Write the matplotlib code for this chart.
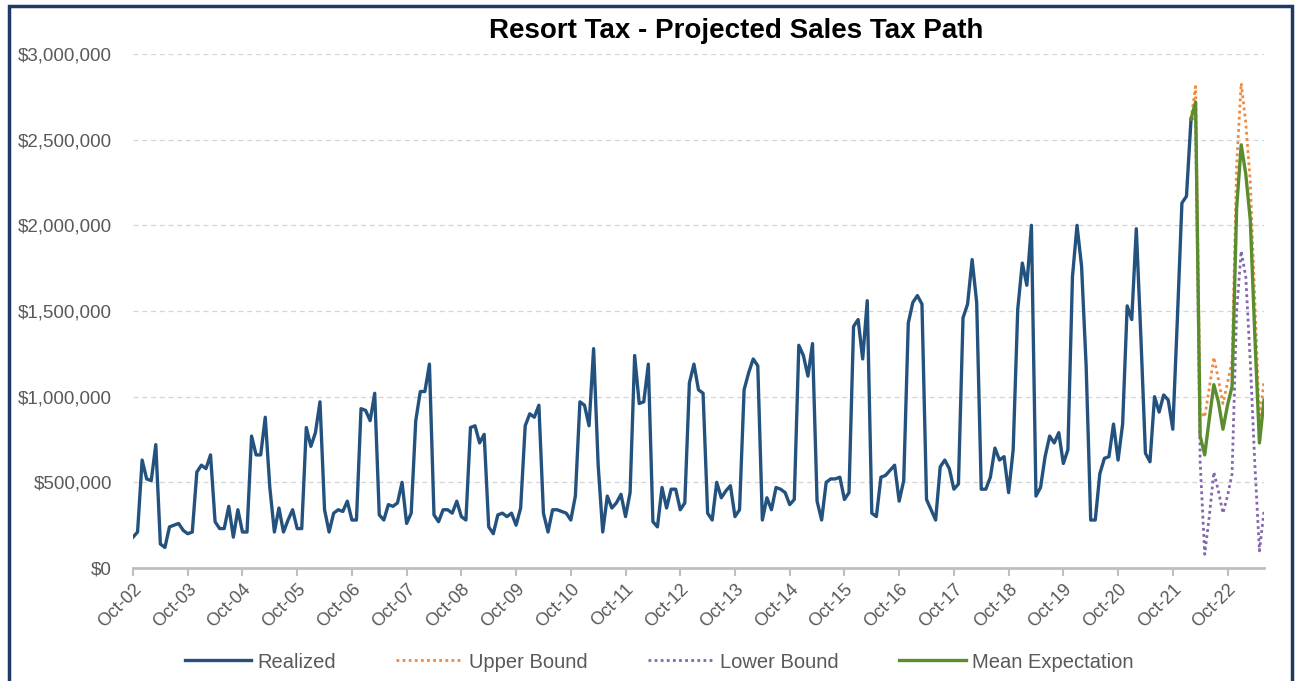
import numpy as np
import pandas as pd
import matplotlib.pyplot as plt
from matplotlib.ticker import FuncFormatter
from matplotlib.patches import Rectangle

plt.rcParams['font.family'] = ['Liberation Sans', 'DejaVu Sans']

# monthly resort tax, $ millions, Oct-02 .. Feb-22 (one row per fiscal year)
realized = [
    0.18, 0.21, 0.63, 0.52, 0.51, 0.72, 0.14, 0.12, 0.24, 0.25, 0.26, 0.22,
    0.20, 0.21, 0.56, 0.60, 0.58, 0.66, 0.27, 0.23, 0.23, 0.36, 0.18, 0.34,
    0.21, 0.21, 0.77, 0.66, 0.66, 0.88, 0.47, 0.21, 0.35, 0.21, 0.28, 0.34,
    0.23, 0.23, 0.82, 0.71, 0.79, 0.97, 0.34, 0.21, 0.32, 0.34, 0.33, 0.39,
    0.28, 0.28, 0.93, 0.92, 0.86, 1.02, 0.31, 0.28, 0.37, 0.36, 0.38, 0.50,
    0.26, 0.32, 0.86, 1.03, 1.03, 1.19, 0.31, 0.27, 0.34, 0.34, 0.32, 0.39,
    0.30, 0.28, 0.82, 0.83, 0.73, 0.78, 0.24, 0.20, 0.31, 0.32, 0.30, 0.32,
    0.25, 0.35, 0.83, 0.90, 0.88, 0.95, 0.32, 0.21, 0.34, 0.34, 0.33, 0.32,
    0.28, 0.42, 0.97, 0.95, 0.83, 1.28, 0.60, 0.21, 0.42, 0.35, 0.38, 0.43,
    0.30, 0.44, 1.24, 0.96, 0.97, 1.19, 0.27, 0.24, 0.47, 0.35, 0.46, 0.46,
    0.34, 0.38, 1.08, 1.19, 1.04, 1.02, 0.32, 0.28, 0.50, 0.41, 0.45, 0.48,
    0.30, 0.34, 1.04, 1.14, 1.22, 1.18, 0.28, 0.41, 0.34, 0.47, 0.46, 0.44,
    0.37, 0.40, 1.30, 1.24, 1.12, 1.31, 0.39, 0.28, 0.50, 0.52, 0.52, 0.53,
    0.40, 0.44, 1.41, 1.45, 1.22, 1.56, 0.32, 0.30, 0.53, 0.54, 0.57, 0.60,
    0.39, 0.51, 1.43, 1.55, 1.59, 1.54, 0.40, 0.34, 0.28, 0.59, 0.63, 0.58,
    0.46, 0.49, 1.46, 1.54, 1.80, 1.55, 0.46, 0.46, 0.53, 0.70, 0.63, 0.65,
    0.44, 0.69, 1.51, 1.78, 1.65, 2.00, 0.42, 0.47, 0.65, 0.77, 0.73, 0.79,
    0.61, 0.69, 1.70, 2.00, 1.76, 1.18, 0.28, 0.28, 0.55, 0.64, 0.65, 0.84,
    0.63, 0.84, 1.53, 1.45, 1.98, 1.35, 0.67, 0.62, 1.00, 0.91, 1.01, 0.98,
    0.81, 1.45, 2.13, 2.17, 2.62,
]

# projections, Feb-22 .. Jun-23
upper_bound = [2.62, 2.81, 0.92, 0.88, 1.05, 1.23, 1.10, 0.96, 1.08, 1.21,
               2.35, 2.83, 2.60, 2.25, 1.55, 0.86, 1.09]
lower_bound = [2.62, 2.63, 0.62, 0.08, 0.30, 0.56, 0.45, 0.32, 0.42, 0.55,
               1.50, 1.85, 1.70, 1.20, 0.60, 0.10, 0.33]
mean_expectation = [2.62, 2.72, 0.77, 0.66, 0.87, 1.07, 0.97, 0.81, 0.95, 1.06,
                    2.10, 2.47, 2.30, 2.03, 1.35, 0.73, 0.98]

months = pd.date_range('2002-10-01', periods=len(realized) - 1 + len(mean_expectation), freq='MS')
x = np.arange(len(months))
x_real = x[:len(realized)]
x_proj = x[len(realized) - 1:]

grey = '#595959'
fig = plt.figure(figsize=(12.96, 6.81), dpi=100)
ax = fig.add_axes([133/1296, 1 - 568/681, (1264 - 133)/1296, (568 - 54)/681])

ax.plot(x_real, np.array(realized)*1e6, color='#24527F', lw=2.4, label='Realized', zorder=3)
ax.plot(x_proj, np.array(upper_bound)*1e6, color='#F08A3E', lw=2, ls=(0, (1, 1.2)),
        label='Upper Bound', zorder=2)
ax.plot(x_proj, np.array(lower_bound)*1e6, color='#8466AE', lw=2, ls=(0, (1, 1.2)),
        label='Lower Bound', zorder=2)
ax.plot(x_proj, np.array(mean_expectation)*1e6, color='#5B8C2E', lw=2.4,
        label='Mean Expectation', zorder=4)

ax.set_xlim(0, x[-1])
ax.set_ylim(0, 3e6)
ax.set_yticks(np.arange(0, 3.01e6, 5e5))
ax.yaxis.set_major_formatter(FuncFormatter(lambda v, p: f'${v:,.0f}'))
ax.grid(axis='y', color='#D5D5D5', ls=(0, (4, 3)), lw=0.9)
ax.set_axisbelow(True)

# x ticks each October
oct_pos = [i for i, m in enumerate(months) if m.month == 10]
ax.set_xticks(oct_pos)
ax.set_xticklabels([months[i].strftime('%b-%y') for i in oct_pos], rotation=45,
                   ha='right', rotation_mode='anchor')

for s in ['top', 'right', 'left']:
    ax.spines[s].set_visible(False)
ax.spines['bottom'].set_color('#BFBFBF')
ax.spines['bottom'].set_linewidth(2)
ax.tick_params(axis='x', colors='#BFBFBF', length=6, width=1.5, labelcolor=grey,
               labelsize=13, pad=3)
ax.tick_params(axis='y', length=0, labelcolor=grey, labelsize=13.5, pad=15)

fig.text(736/1296, 1 - 31/681, 'Resort Tax - Projected Sales Tax Path',
         ha='center', va='center', fontsize=20, fontweight='bold')

leg = fig.legend(loc='center', bbox_to_anchor=(659/1296, 1 - 662/681), ncol=4,
                 frameon=False, fontsize=14.5, handlelength=3.3, columnspacing=3.0,
                 handletextpad=0.3)
for t in leg.get_texts():
    t.set_color(grey)

# dark frame round the chart
fig.patches.append(Rectangle((9/1296, -0.05), (1292 - 9)/1296, 1 - 6/681 + 0.05,
                             transform=fig.transFigure, fill=False,
                             edgecolor='#1F3864', lw=2.5))

fig.savefig('out.png', dpi=100)
